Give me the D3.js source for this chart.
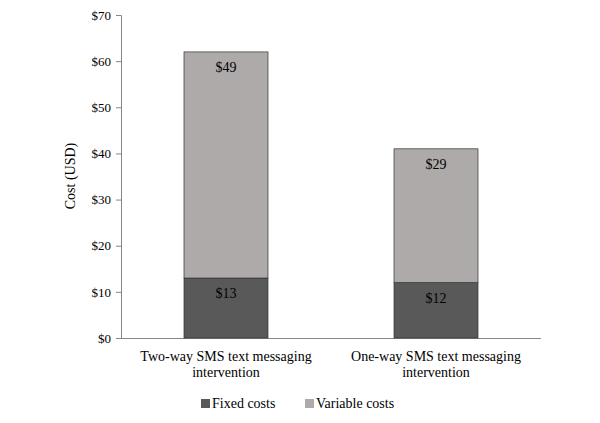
<!DOCTYPE html>
<html><head><meta charset="utf-8">
<script src="https://cdn.jsdelivr.net/npm/d3@7"></script>
<style>body{margin:0;background:#fff}text{font-family:"Liberation Serif","Times New Roman",serif}</style>
</head><body><svg id="c" width="600" height="423"></svg>
<script>
var categories = [["Two-way SMS text messaging", "intervention"], ["One-way SMS text messaging", "intervention"]];
var fixedCosts = [13, 12];
var variableCosts = [49, 29];
var yTicks = [0, 10, 20, 30, 40, 50, 60, 70];

var svg = d3.select("#c");
var y = d3.scaleLinear().domain([0, 70]).range([338, 15]);
var x = d3.scaleBand().domain([0, 1]).range([121, 541]).paddingInner(0.6).paddingOuter(0.3);

var ax = svg.append("g").attr("transform", "translate(121,0)")
  .call(d3.axisLeft(y).tickValues(yTicks).tickSize(5).tickFormat(function(d){ return "$" + d; }));
ax.selectAll("path,line").attr("stroke", "#868686");
ax.selectAll("text").attr("font-size", 13).attr("fill", "#000").attr("dx", -2);
svg.append("line").attr("x1", 121).attr("x2", 541).attr("y1", 338.5).attr("y2", 338.5).attr("stroke", "#868686");

svg.append("text").attr("transform", "translate(75,176) rotate(-90)").attr("text-anchor", "middle")
  .attr("font-size", 14).text("Cost (USD)");

categories.forEach(function(c, i) {
  var bx = x(i), bw = x.bandwidth();
  svg.append("rect").attr("x", bx).attr("width", bw).attr("y", y(fixedCosts[i]))
    .attr("height", y(0) - y(fixedCosts[i])).attr("fill", "#595959").attr("stroke", "#333").attr("stroke-width", 0.7);
  var top = fixedCosts[i] + variableCosts[i];
  svg.append("rect").attr("x", bx).attr("width", bw).attr("y", y(top))
    .attr("height", y(fixedCosts[i]) - y(top)).attr("fill", "#aeaaaa").attr("stroke", "#333").attr("stroke-width", 0.7);
  svg.append("text").attr("x", bx + bw / 2).attr("y", y(fixedCosts[i]) + 20).attr("text-anchor", "middle")
    .attr("font-size", 14).text("$" + fixedCosts[i]);
  svg.append("text").attr("x", bx + bw / 2).attr("y", y(top) + 20).attr("text-anchor", "middle")
    .attr("font-size", 14).text("$" + variableCosts[i]);
  c.forEach(function(line, j) {
    svg.append("text").attr("x", bx + bw / 2).attr("y", 361 + j * 16).attr("text-anchor", "middle")
      .attr("font-size", 14).text(line);
  });
});

var legend = [["Fixed costs", "#595959", 201], ["Variable costs", "#aeaaaa", 305]];
legend.forEach(function(l) {
  svg.append("rect").attr("x", l[2]).attr("y", 399).attr("width", 9).attr("height", 9).attr("fill", l[1]);
  svg.append("text").attr("x", l[2] + 11).attr("y", 408).attr("font-size", 14).text(l[0]);
});
</script></body></html>
